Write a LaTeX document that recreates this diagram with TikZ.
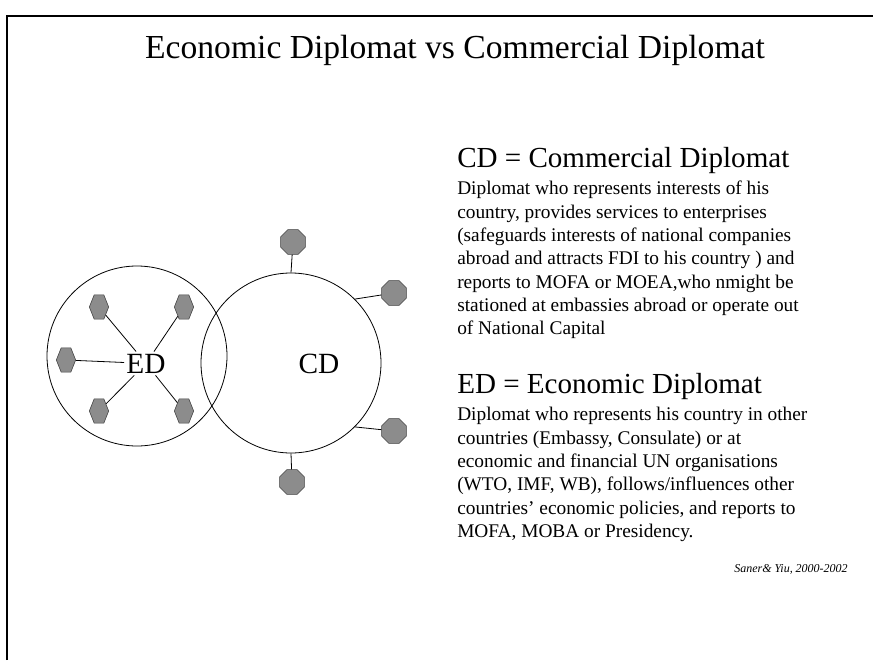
\documentclass[tikz,border=0pt]{standalone}
\usepackage{fontspec}
\setmainfont{Liberation Serif}
\usetikzlibrary{shapes.geometric}
\tikzset{
  ring/.style   = {draw, circle, minimum size=135pt, inner sep=0pt, line width=0.6pt},
  hexa/.style   = {draw=black!75, fill=black!45, regular polygon, regular polygon sides=6,
                   minimum size=14.5pt, inner sep=0pt, yscale=1.45},
  octa/.style   = {draw=black!75, fill=black!45, regular polygon, regular polygon sides=8,
                   minimum size=20pt, inner sep=0pt},
  link/.style   = {line width=0.6pt},
  tag/.style    = {font=\fontsize{22}{26}\selectfont, inner sep=1.5pt, anchor=base},
  head/.style   = {font=\fontsize{21.8}{26}\selectfont, anchor=base west, inner sep=0pt},
  body/.style   = {font=\fontsize{14.5}{17.5}\selectfont, align=left, anchor=north west, inner sep=0pt}
}

\begin{document}
\begin{tikzpicture}[x=0.75pt, y=-0.75pt]
    \useasboundingbox (0,0) rectangle (873,660);
    \draw[line width=1.4pt] (7,660) -- (7,16) -- (873,16);

    \node[font=\fontsize{25.2}{30}\selectfont, anchor=base] (title) at (455,59)
      {Economic Diplomat vs Commercial Diplomat};

    % the two circles
    \node[ring] (edc) at (137,356) {};
    \node[ring] (cdc) at (291,363) {};
    \node[tag] (ed) at (146,373) {ED};
    \node[tag] (cd) at (319,373) {CD};

    % ED and its contacts
    \node[hexa] (h1) at (99,307) {} edge [link] (ed);
    \node[hexa] (h2) at (184,307) {} edge [link] (ed);
    \node[hexa] (h3) at (66,360) {} edge [link] (ed);
    \node[hexa] (h4) at (99,411) {} edge [link] (ed);
    \node[hexa] (h5) at (184,411) {} edge [link] (ed);

    % CD and its contacts
    \node[octa] (o1) at (293,242) {} edge [link] (cdc.90);
    \node[octa] (o2) at (394,293) {} edge [link] (cdc.45);
    \node[octa] (o3) at (394,431) {} edge [link] (cdc.-45);
    \node[octa] (o4) at (292,482) {} edge [link] (cdc.-90);

    % definitions
    \node[head] (cdhead) at (457,167) {CD = Commercial Diplomat};
    \node[body] (cdbody) at (457,181) {Diplomat who represents interests of his\\
      country, provides services to enterprises\\
      (safeguards interests of national companies\\
      abroad and attracts FDI to his country ) and\\
      reports to MOFA or MOEA,who nmight be\\
      stationed at embassies abroad or operate out\\
      of National Capital};

    \node[head] (edhead) at (457,393) {ED = Economic Diplomat};
    \node[body] (edbody) at (457,407) {Diplomat who represents his country in other\\
      countries (Embassy, Consulate) or at\\
      economic and financial UN organisations\\
      (WTO, IMF, WB), follows/influences other\\
      countries’ economic policies, and reports to\\
      MOFA, MOBA or Presidency.};

    \node[font=\fontsize{9}{11}\itshape, anchor=base east, inner sep=0pt] (cite) at (848,572)
      {Saner\& Yiu, 2000-2002};
\end{tikzpicture}
\end{document}
